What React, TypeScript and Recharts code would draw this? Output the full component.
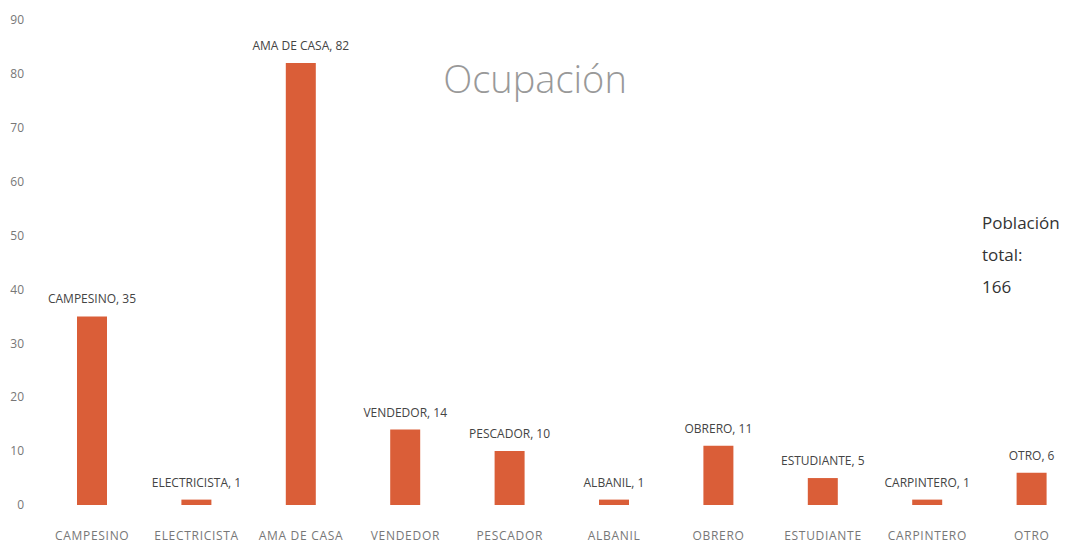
import { BarChart, Bar, XAxis, YAxis, LabelList } from "recharts";

const categories = [
  "CAMPESINO",
  "ELECTRICISTA",
  "AMA DE CASA",
  "VENDEDOR",
  "PESCADOR",
  "ALBANIL",
  "OBRERO",
  "ESTUDIANTE",
  "CARPINTERO",
  "OTRO",
];
const counts = [35, 1, 82, 14, 10, 1, 11, 5, 1, 6];
const yTicks = [0, 10, 20, 30, 40, 50, 60, 70, 80, 90];
const noteLines = ["Población", "total:", "166"];

const data = categories.map((name, i) => ({ name, value: counts[i] }));

const font = "'Open Sans', 'DejaVu Sans', sans-serif";

const BarTag = (props: any) => {
  const { x, y, width, index } = props;
  const d = data[index];
  return (
    <text
      x={x + width / 2}
      y={y - 13}
      textAnchor="middle"
      fontSize={12}
      fontFamily={font}
      fill="#444"
    >
      {`${d.name}, ${d.value}`}
    </text>
  );
};

const App = () => {
  return (
    <div style={{ position: "fixed", left: 0, top: 0, width: 1077, height: 548, background: "#fff" }}>
      <BarChart
        width={1077}
        height={548}
        data={data}
        margin={{ top: 20, right: -7, bottom: 13, left: 0 }}
      >
        <XAxis
          dataKey="name"
          height={30}
          axisLine={false}
          tickLine={false}
          interval={0}
          tickMargin={20}
          tick={{ fontSize: 12, fill: "#777", fontFamily: font, letterSpacing: 0.7 }}
        />
        <YAxis
          width={40}
          domain={[0, 90]}
          ticks={yTicks}
          axisLine={false}
          tickLine={false}
          tickMargin={10}
          tick={{ fontSize: 12, fill: "#777", fontFamily: font }}
        />
        <Bar dataKey="value" fill="#DA5E38" barSize={30} isAnimationActive={false}>
          <LabelList dataKey="value" content={<BarTag />} />
        </Bar>
        <text
          x={535}
          y={93}
          textAnchor="middle"
          fontSize={38}
          fontWeight={300}
          fontFamily={font}
          fill="#999"
        >
          Ocupación
        </text>
        {noteLines.map((t, i) => (
          <text
            key={t}
            x={982}
            y={229 + i * 32}
            fontSize={17}
            fontFamily={font}
            fill="#333"
          >
            {t}
          </text>
        ))}
      </BarChart>
    </div>
  );
};

export default App;
